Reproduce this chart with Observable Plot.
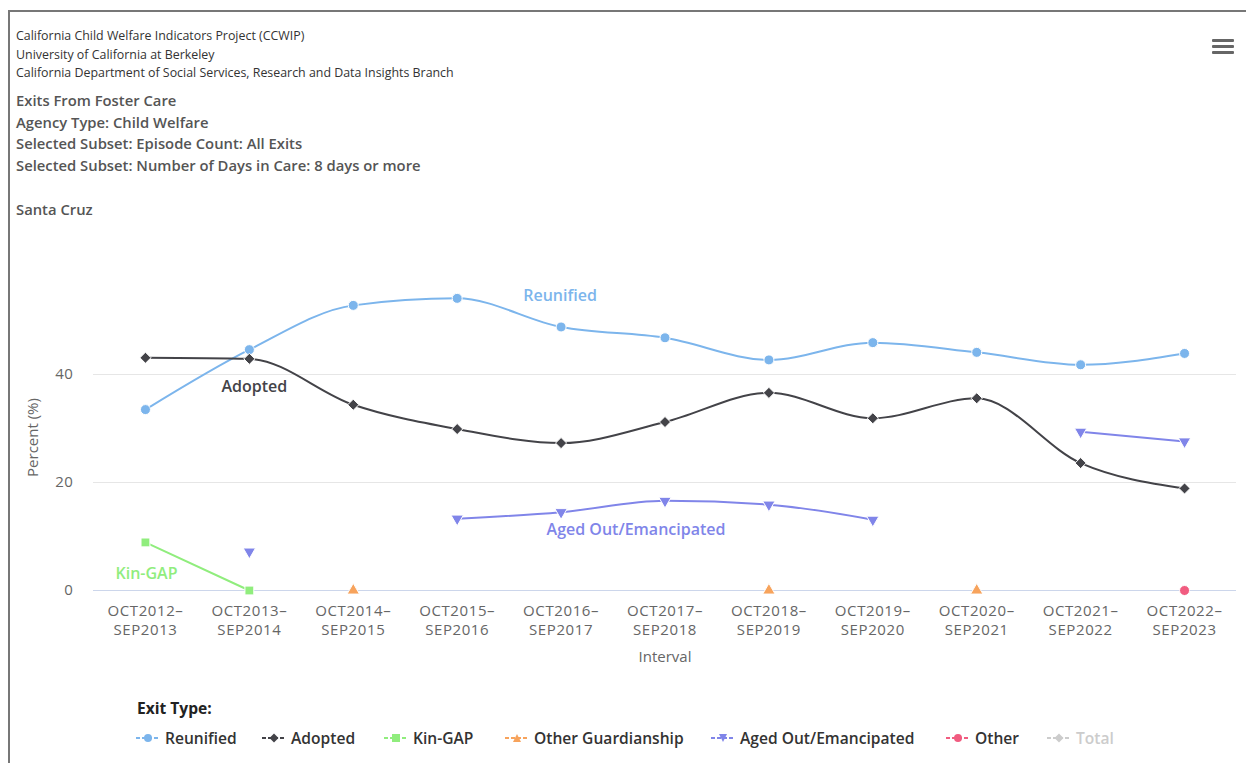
<!DOCTYPE html>
<html>
<head>
<meta charset="utf-8">
<script src="https://cdn.jsdelivr.net/npm/d3@7"></script>
<script src="https://cdn.jsdelivr.net/npm/@observablehq/plot@0.6"></script>
<style>
  html, body { margin: 0; padding: 0; background: #fff; width: 1246px; height: 763px; overflow: hidden; font-family: "Open Sans", sans-serif; }
  #frame { position: absolute; left: 8px; top: 10px; width: 1250px; height: 760px; border-top: 2px solid #777; border-left: 2px solid #777; }
  .src { position: absolute; left: 16px; font-size: 12.4px; color: #333; line-height: 16px; }
  .ttl { position: absolute; left: 16px; font-size: 14.8px; font-weight: 600; color: #555; line-height: 18px; }
  #menu { position: absolute; left: 1212px; top: 39px; width: 22px; }
  #menu div { height: 3px; background: #666; margin-bottom: 3px; border-radius: 1px; }
  #chart { position: absolute; left: 0; top: 230px; }
  #chart svg g[aria-label="x-axis tick label"] text, #chart svg g[aria-label="y-axis tick label"] text { letter-spacing: 0.6px; }
  #legtitle { position: absolute; left: 137px; top: 697px; font-size: 15.6px; font-weight: 700; color: #222; }
  .li { position: absolute; top: 727px; display: flex; align-items: center; font-size: 15.6px; font-weight: 600; color: #333; white-space: nowrap; }
  .li svg { margin-right: 5px; }
</style>
</head>
<body>
<div id="frame"></div>
<div class="src" style="top:28px">California Child Welfare Indicators Project (CCWIP)</div>
<div class="src" style="top:47px">University of California at Berkeley</div>
<div class="src" style="top:65px">California Department of Social Services, Research and Data Insights Branch</div>
<div class="ttl" style="top:91px">Exits From Foster Care</div>
<div class="ttl" style="top:113px">Agency Type: Child Welfare</div>
<div class="ttl" style="top:134px">Selected Subset: Episode Count: All Exits</div>
<div class="ttl" style="top:156px">Selected Subset: Number of Days in Care: 8 days or more</div>
<div class="ttl" style="top:200px">Santa Cruz</div>
<div id="menu"><div></div><div></div><div></div></div>
<div id="chart"></div>
<div id="legtitle">Exit Type:</div>
<div id="legend"></div>
<script>
// ---- data ----
const categories = ["OCT2012–SEP2013","OCT2013–SEP2014","OCT2014–SEP2015","OCT2015–SEP2016","OCT2016–SEP2017","OCT2017–SEP2018","OCT2018–SEP2019","OCT2019–SEP2020","OCT2020–SEP2021","OCT2021–SEP2022","OCT2022–SEP2023"];
const reunified  = [33.5, 44.6, 52.8, 54.1, 48.8, 46.8, 42.7, 45.9, 44.1, 41.8, 43.9];
const adopted    = [43.1, 42.9, 34.4, 29.9, 27.3, 31.2, 36.6, 31.9, 35.6, 23.6, 18.9];
const kinGap     = [8.9, 0, null, null, null, null, null, null, null, null, null];
const otherGuard = [null, null, 0, null, null, null, 0, null, 0, null, null];
const agedOut    = [null, 7.2, null, 13.3, 14.5, 16.6, 15.9, 13.1, null, 29.4, 27.6];
const other      = [null, null, null, null, null, null, null, null, null, null, 0];
const seriesNames  = ["Reunified", "Adopted", "Kin-GAP", "Other Guardianship", "Aged Out/Emancipated", "Other", "Total"];
const seriesColors = ["#7cb5ec", "#434348", "#90ed7d", "#f7a35c", "#8085e9", "#f15c80", "#cccccc"];
const yTicks = [0, 20, 40];
// series label positions (category index, value, horizontal nudge)
const seriesLabels = [
  {series: "Reunified", cat: 4, value: 54.6, nudge: -1},
  {series: "Adopted", cat: 1, value: 37.8, nudge: 5},
  {series: "Kin-GAP", cat: 0, value: 3.0, nudge: 1},
  {series: "Aged Out/Emancipated", cat: 5, value: 11.3, nudge: -29}
];

const seriesValues = {"Reunified": reunified, "Adopted": adopted, "Kin-GAP": kinGap, "Other Guardianship": otherGuard, "Aged Out/Emancipated": agedOut, "Other": other};
const symbols = {"Reunified": ["circle", 0, 5], "Adopted": ["diamond2", 0, 5], "Kin-GAP": ["square", 0, 5], "Other Guardianship": ["triangle", 0, 4.6], "Aged Out/Emancipated": ["triangle", 180, 4.6], "Other": ["circle", 0, 5]};
const colorOf = Object.fromEntries(seriesNames.map((s, i) => [s, seriesColors[i]]));

const rows = [];
for (const [s, vals] of Object.entries(seriesValues)) {
  vals.forEach((v, i) => rows.push({series: s, cat: categories[i], value: v == null ? NaN : v}));
}

const marks = [
  Plot.gridY(yTicks, {stroke: "#e6e6e6", strokeOpacity: 1}),
  Plot.ruleY([0], {stroke: "#ccd6eb"}),
  Plot.axisY(yTicks, {tickSize: 0, tickPadding: 20, fontSize: 15, fill: "#666", label: null}),
  Plot.axisX({tickSize: 0, tickPadding: 12, fontSize: 15, fill: "#666", label: null, lineHeight: 1.27, tickFormat: d => d.replace("–", "–\n")}),
  Plot.text(["Percent (%)"], {frameAnchor: "left", textAnchor: "middle", rotate: -90, dx: -60, dy: 9, fontSize: 15, fill: "#666"}),
  Plot.text(["Interval"], {frameAnchor: "bottom", dy: 71, fontSize: 15, fill: "#666"})
];
for (const s of Object.keys(seriesValues)) {
  const d = rows.filter(r => r.series === s);
  marks.push(Plot.line(d, {x: "cat", y: "value", stroke: colorOf[s], strokeWidth: 2, curve: "monotone-x"}));
}
for (const s of Object.keys(seriesValues)) {
  const d = rows.filter(r => r.series === s && !isNaN(r.value));
  const [sym, rot, r] = symbols[s];
  marks.push(Plot.dot(d, {x: "cat", y: "value", symbol: sym, rotate: rot, r, fill: colorOf[s], stroke: "white", strokeWidth: 1}));
}
for (const l of seriesLabels) {
  marks.push(Plot.text([l], {x: d => categories[d.cat], y: "value", text: "series", dx: l.nudge, fill: colorOf[l.series], fontSize: 16, fontWeight: 600, stroke: "white", strokeWidth: 2}));
}

const chart = Plot.plot({
  width: 1246,
  height: 445,
  marginTop: 36,
  marginBottom: 85,
  marginLeft: 93,
  marginRight: 10,
  style: {fontFamily: "Open Sans, sans-serif", background: "transparent", overflow: "visible"},
  x: {type: "point", domain: categories, padding: 0.5, round: false},
  y: {domain: [0, 60]},
  marks
});
document.getElementById("chart").appendChild(chart);

// legend
const leg = document.getElementById("legend");
const legLeft = [136, 262, 384, 505, 711, 946, 1047];
const symbolPath = {
  circle: '<circle cx="12" cy="8" r="4"/>',
  diamond2: '<path d="M12 3.5 L16.5 8 L12 12.5 L7.5 8 Z"/>',
  square: '<rect x="8" y="4" width="8" height="8"/>',
  triangle: '<path d="M12 4 L16 12 L8 12 Z"/>',
  triangleDown: '<path d="M8 4 L16 4 L12 12 Z"/>'
};
const legSym = {"Reunified": "circle", "Adopted": "diamond2", "Kin-GAP": "square", "Other Guardianship": "triangle", "Aged Out/Emancipated": "triangleDown", "Other": "circle", "Total": "diamond2"};
seriesNames.forEach((s, i) => {
  const c = seriesColors[i];
  const item = document.createElement("div");
  item.className = "li";
  item.style.left = legLeft[i] + "px";
  item.innerHTML = `<svg width="24" height="16"><line x1="0" x2="24" y1="8" y2="8" stroke="${c}" stroke-width="2" stroke-dasharray="4,2"/><g fill="${c}">${symbolPath[legSym[s]]}</g></svg><span style="color:${s === "Total" ? "#cccccc" : "#333"}">${s}</span>`;
  leg.appendChild(item);
});
</script>
</body>
</html>
